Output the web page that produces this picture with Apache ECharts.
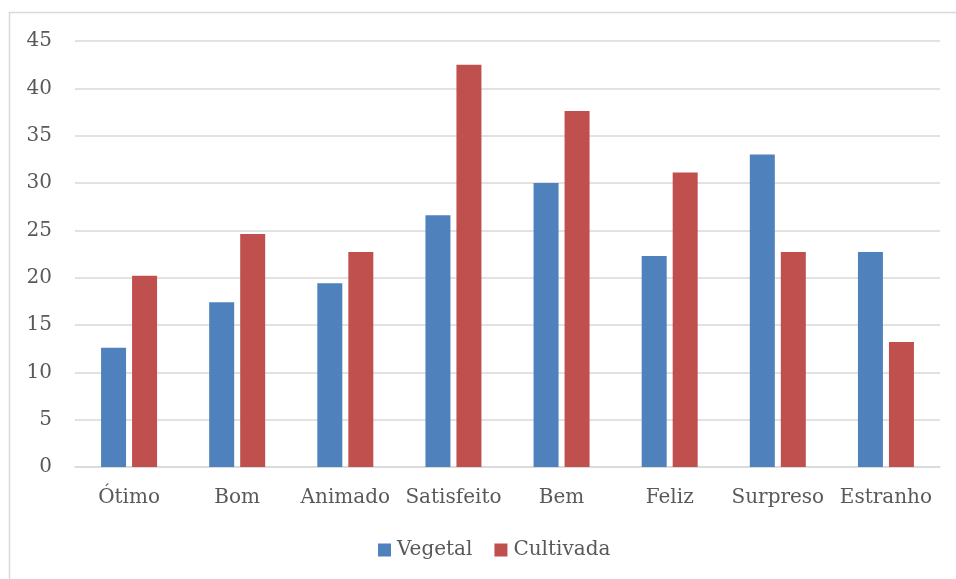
<!DOCTYPE html>
<html>
<head>
<meta charset="utf-8">
<script src="https://cdn.jsdelivr.net/npm/echarts@6/dist/echarts.min.js"></script>
<style>
  html, body { margin: 0; padding: 0; background: #fff; }
  #chart { width: 956px; height: 579px; }
</style>
</head>
<body>
<div id="chart"></div>
<script>
// Categories and series values
const categories = ['Ótimo', 'Bom', 'Animado', 'Satisfeito', 'Bem', 'Feliz', 'Surpreso', 'Estranho'];
const vegetal = [12.6, 17.4, 19.4, 26.6, 30.0, 22.3, 33.0, 22.7];
const cultivada = [20.2, 24.6, 22.7, 42.5, 37.6, 31.1, 22.7, 13.2];
const yTicks = { min: 0, max: 45, interval: 5 };

const font = '"DejaVu Serif", "Liberation Serif", serif';
const textColor = '#595959';

const chart = echarts.init(document.getElementById('chart'), null, { renderer: 'canvas' });
chart.setOption({
  backgroundColor: '#ffffff',
  animation: false,
  graphic: [{
    type: 'rect',
    shape: { x: 9.5, y: 12.5, width: 1000, height: 1000 },
    style: { fill: 'none', stroke: '#d9d9d9', lineWidth: 1.5 },
    silent: true
  }],
  grid: { left: 75, right: 16, top: 41, bottom: 112, containLabel: false },
  legend: {
    bottom: 14,
    left: 373,
    itemWidth: 13,
    itemHeight: 13,
    itemGap: 22,
    icon: 'rect',
    textStyle: { fontFamily: font, fontSize: 20, color: textColor, padding: [0, 0, 0, 1] },
    data: ['Vegetal', 'Cultivada']
  },
  xAxis: {
    type: 'category',
    data: categories,
    axisTick: { show: false },
    axisLine: { lineStyle: { color: '#d9d9d9', width: 1.5 } },
    axisLabel: { fontFamily: font, fontSize: 20, color: textColor, margin: 21, interval: 0 }
  },
  yAxis: {
    type: 'value',
    min: yTicks.min,
    max: yTicks.max,
    interval: yTicks.interval,
    axisLine: { show: false },
    axisTick: { show: false },
    splitLine: { lineStyle: { color: '#d9d9d9', width: 1.5 } },
    axisLabel: { fontFamily: font, fontSize: 20, color: textColor, margin: 23 }
  },
  series: [
    {
      name: 'Vegetal',
      type: 'bar',
      data: vegetal,
      barWidth: 25,
      barGap: '24%',
      itemStyle: { color: '#4f81bd' }
    },
    {
      name: 'Cultivada',
      type: 'bar',
      data: cultivada,
      barWidth: 25,
      itemStyle: { color: '#c0504d' }
    }
  ]
});
</script>
</body>
</html>
